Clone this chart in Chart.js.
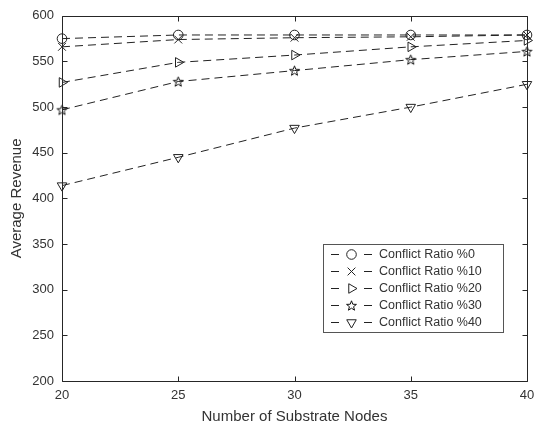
<!DOCTYPE html>
<html>
<head>
<meta charset="utf-8">
<script src="https://cdn.jsdelivr.net/npm/chart.js@4.4.1/dist/chart.umd.min.js"></script>
<style>
  html, body { margin: 0; padding: 0; background: #fff; }
  #c { display: block; }
</style>
</head>
<body>
<canvas id="c" width="534" height="426"></canvas>
<script>
// ---- Data ----
const xNodes = [20, 25, 30, 35, 40];
const ratio0  = [575, 579, 579, 579, 579];
const ratio10 = [566, 574, 576, 577, 579];
const ratio20 = [527, 549, 557, 566, 573];
const ratio30 = [497, 528, 540, 552, 561];
const ratio40 = [414, 445, 477, 500, 525];
const seriesNames = ['Conflict Ratio %0', 'Conflict Ratio %10', 'Conflict Ratio %20', 'Conflict Ratio %30', 'Conflict Ratio %40'];
const yTicks = [200, 250, 300, 350, 400, 450, 500, 550, 600];
const xTicks = [20, 25, 30, 35, 40];

const INK = '#222222';
const AXIS = '#262626';
const TEXT = '#333333';
const FONT = '"Liberation Sans", Arial, Helvetica, sans-serif';

// five-point star marker image
function makeStar() {
  const s = 15, c = document.createElement('canvas');
  c.width = s; c.height = s;
  const g = c.getContext('2d');
  const cx = s / 2, cy = s / 2 + 0.5, R = 5.2, r = 2.2;
  g.beginPath();
  for (let i = 0; i < 10; i++) {
    const a = -Math.PI / 2 + i * Math.PI / 5;
    const rr = i % 2 === 0 ? R : r;
    const px = cx + rr * Math.cos(a), py = cy + rr * Math.sin(a);
    if (i === 0) g.moveTo(px, py); else g.lineTo(px, py);
  }
  g.closePath();
  g.strokeStyle = '#111111'; g.lineWidth = 1;
  g.stroke();
  return c;
}
const starImg = makeStar();

const markerStyles = [
  { pointStyle: 'circle', rotation: 0, radius: 4.8 },
  { pointStyle: 'crossRot', rotation: 0, radius: 5.5 },
  { pointStyle: 'triangle', rotation: 90, radius: 5.5 },
  { pointStyle: starImg, rotation: 0, radius: 6 },
  { pointStyle: 'triangle', rotation: 180, radius: 5.5 }
];
const allSeries = [ratio0, ratio10, ratio20, ratio30, ratio40];

const datasets = allSeries.map((vals, i) => ({
  label: seriesNames[i],
  data: xNodes.map((x, j) => ({ x: x, y: vals[j] })),
  borderColor: INK,
  borderWidth: 1,
  borderDash: [8, 5],
  pointStyle: markerStyles[i].pointStyle,
  pointRotation: markerStyles[i].rotation,
  pointRadius: markerStyles[i].radius,
  pointHoverRadius: markerStyles[i].radius,
  pointBorderColor: INK,
  pointBackgroundColor: 'rgba(0,0,0,0)',
  pointBorderWidth: 1,
  fill: false,
  tension: 0,
  clip: false
}));

// box + inward ticks + legend
const decor = {
  id: 'decor',
  afterDraw(chart) {
    const ctx = chart.ctx;
    const a = chart.chartArea;
    const xs = chart.scales.x, ys = chart.scales.y;
    ctx.save();
    ctx.strokeStyle = AXIS;
    ctx.lineWidth = 1;
    ctx.setLineDash([]);
    const L = Math.round(a.left) + 0.5, R = Math.round(a.right) + 0.5;
    const T = Math.round(a.top) + 0.5, B = Math.round(a.bottom) + 0.5;
    ctx.beginPath();
    ctx.rect(L, T, R - L, B - T);
    ctx.stroke();
    const tl = 5;
    ctx.beginPath();
    xTicks.forEach(v => {
      const px = Math.round(xs.getPixelForValue(v)) + 0.5;
      ctx.moveTo(px, B); ctx.lineTo(px, B - tl);
      ctx.moveTo(px, T); ctx.lineTo(px, T + tl);
    });
    yTicks.forEach(v => {
      const py = Math.round(ys.getPixelForValue(v)) + 0.5;
      ctx.moveTo(L, py); ctx.lineTo(L + tl, py);
      ctx.moveTo(R, py); ctx.lineTo(R - tl, py);
    });
    ctx.stroke();

    // legend
    const bx = 323.5, by = 244.5, bw = 180, bh = 88;
    ctx.fillStyle = '#ffffff';
    ctx.fillRect(bx, by, bw, bh);
    ctx.strokeStyle = '#555555';
    ctx.strokeRect(bx, by, bw, bh);
    ctx.font = '12.5px ' + FONT;
    ctx.textBaseline = 'middle';
    ctx.textAlign = 'left';
    chart.data.datasets.forEach((ds, i) => {
      const y = 254.5 + i * 17;
      ctx.strokeStyle = INK;
      ctx.lineWidth = 1;
      ctx.beginPath();
      ctx.moveTo(331, y); ctx.lineTo(339, y);
      ctx.moveTo(364, y); ctx.lineTo(372, y);
      ctx.stroke();
      ctx.fillStyle = 'rgba(0,0,0,0)';
      ctx.strokeStyle = INK;
      Chart.helpers.drawPoint(ctx, {
        pointStyle: ds.pointStyle,
        rotation: ds.pointRotation,
        radius: ds.pointRadius,
        borderWidth: 1
      }, 351.5, y);
      ctx.fillStyle = TEXT;
      ctx.fillText(ds.label, 379, y + 0.5);
    });
    ctx.restore();
  }
};

new Chart(document.getElementById('c'), {
  type: 'line',
  data: { datasets: datasets },
  options: {
    responsive: false,
    devicePixelRatio: 1,
    animation: false,
    events: [],
    layout: { padding: { top: 14, right: 0, left: 0, bottom: 0 } },
    plugins: {
      legend: { display: false },
      tooltip: { enabled: false }
    },
    scales: {
      x: {
        type: 'linear',
        min: 20, max: 40,
        afterFit(s) { s.height = 45; s.paddingRight = 7; s.paddingLeft = 0; },
        afterBuildTicks(s) { s.ticks = xTicks.map(v => ({ value: v })); },
        grid: { display: true, drawOnChartArea: false, drawTicks: false, color: 'rgba(0,0,0,0)' },
        border: { display: false },
        ticks: { color: TEXT, font: { family: FONT, size: 13 }, padding: 7, maxRotation: 0 },
        title: { display: true, text: 'Number of Substrate Nodes', color: TEXT,
                 font: { family: FONT, size: 15 }, padding: { top: 4, bottom: 0 } }
      },
      y: {
        type: 'linear',
        min: 200, max: 600,
        afterFit(s) { s.width = 62; },
        afterBuildTicks(s) { s.ticks = yTicks.map(v => ({ value: v })); },
        grid: { display: true, drawOnChartArea: false, drawTicks: false, color: 'rgba(0,0,0,0)' },
        border: { display: false },
        ticks: { color: TEXT, font: { family: FONT, size: 13 }, padding: 8 },
        title: { display: true, text: 'Average Revenue', color: TEXT,
                 font: { family: FONT, size: 15 }, padding: { top: 8, bottom: 0 } }
      }
    }
  },
  plugins: [decor]
});
</script>
</body>
</html>
